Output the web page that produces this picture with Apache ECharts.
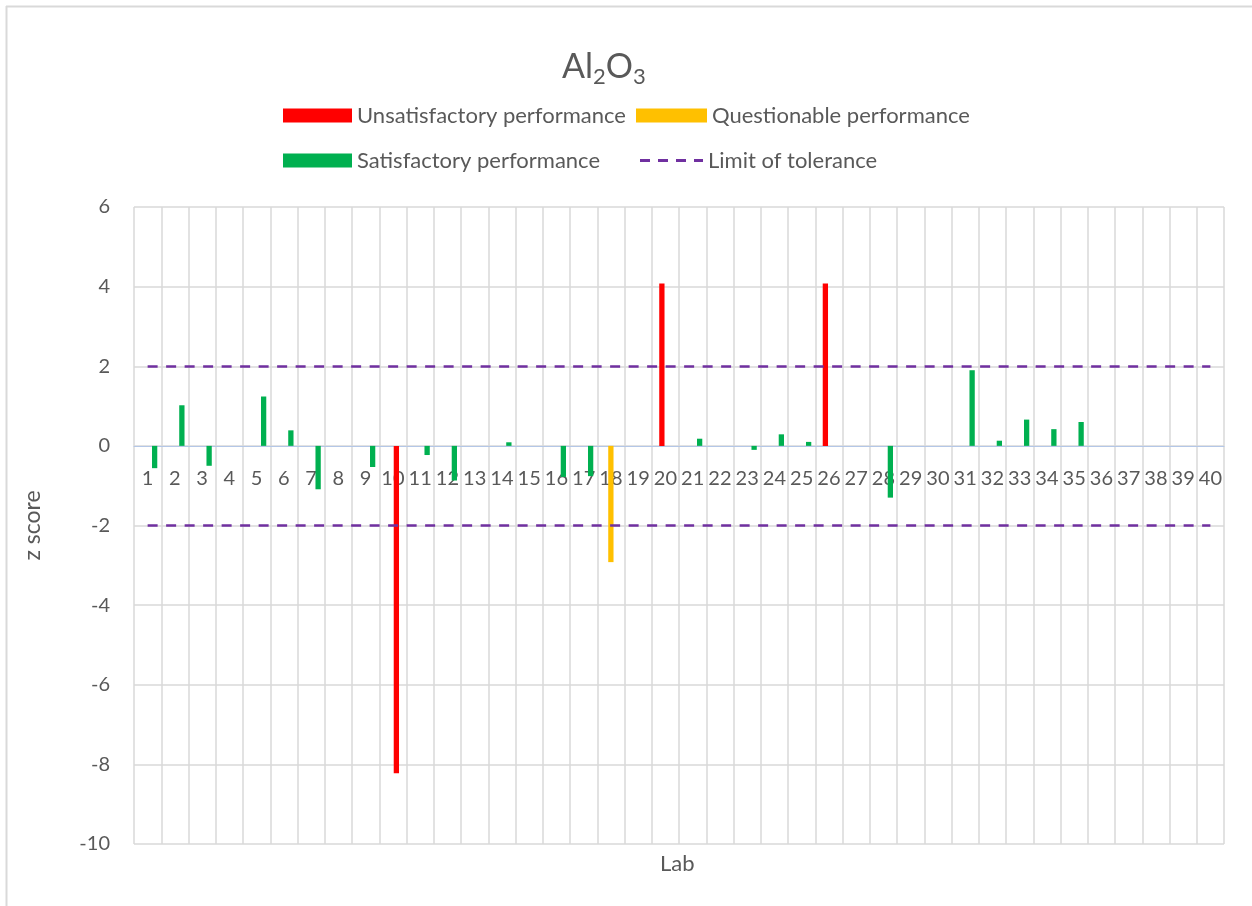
<!DOCTYPE html>
<html>
<head>
<meta charset="utf-8">
<title>Al2O3 z scores</title>
<script src="https://cdn.jsdelivr.net/npm/echarts@6/dist/echarts.min.js"></script>
<style>
  html, body { margin: 0; padding: 0; background: #fff; }
  #chart { width: 1252px; height: 906px; }
</style>
</head>
<body>
<div id="chart"></div>
<script>
// lab numbers on the category axis
const labs = ['1', '2', '3', '4', '5', '6', '7', '8', '9', '10',
  '11', '12', '13', '14', '15', '16', '17', '18', '19', '20',
  '21', '22', '23', '24', '25', '26', '27', '28', '29', '30',
  '31', '32', '33', '34', '35', '36', '37', '38', '39', '40']

// z scores, one slot per lab (null = no bar in that series)
const satisfactory = [-0.56, 1.02, -0.50, null, 1.24, 0.39, -1.09, null, -0.53, null,
  -0.23, -0.87, null, 0.09, null, -0.78, -0.76, null, null, null,
  0.18, null, -0.10, 0.29, 0.10, null, null, -1.30, null, null,
  1.90, 0.13, 0.66, 0.42, 0.60, null, null, null, null, null]
const unsatHigh = [null, null, null, null, null, null, null, null, null, null,
  null, null, null, null, null, null, null, null, null, 4.08,
  null, null, null, null, null, 4.08, null, null, null, null,
  null, null, null, null, null, null, null, null, null, null]
const unsatLow = [null, null, null, null, null, null, null, null, null, -8.22,
  null, null, null, null, null, null, null, null, null, null,
  null, null, null, null, null, null, null, null, null, null,
  null, null, null, null, null, null, null, null, null, null]
const questionable = [null, null, null, null, null, null, null, null, null, null,
  null, null, null, null, null, null, null, -2.92, null, null,
  null, null, null, null, null, null, null, null, null, null,
  null, null, null, null, null, null, null, null, null, null]
const limits = [2, -2]

const FONT = 'Lato'
const TXT = '#595959'
const RED = '#ff0000'
const YELLOW = '#ffc000'
const GREEN = '#00b050'
const PURPLE = '#7030a0'

// grid box (px)
const G_TOP = 207
const G_BOTTOM = 62
const Y_MIN = -10
const Y_MAX = 6
const plotH = 906 - G_TOP - G_BOTTOM
// lift the category axis from the bottom edge up to z = 0
const zeroLift = plotH * (0 - Y_MIN) / (Y_MAX - Y_MIN)

const chart = echarts.init(document.getElementById('chart'))

function barSeries(name, data, color) {
  return {
    name: name,
    type: 'bar',
    data: data,
    barWidth: 5.3,
    barGap: '-34%',
    itemStyle: { color: color },
    animation: false
  }
}

function legendAt(name, left, top, width, height, icon) {
  return {
    data: [name],
    left: left,
    top: top,
    padding: 0,
    icon: icon,
    itemWidth: width,
    itemHeight: height,
    itemGap: 0,
    selectedMode: false,
    textStyle: { fontFamily: FONT, fontSize: 22, color: TXT }
  }
}

const dashIcon = 'path://M0,0h10v3h-10z M18,0h10v3h-10z M36,0h10v3h-10z M54,0h9v3h-9z'

chart.setOption({
  backgroundColor: '#fff',
  textStyle: { fontFamily: FONT },
  title: {
    text: '{a|Al}{s|2}{a|O}{s|3}',
    left: 562,
    top: 46,
    padding: 0,
    textStyle: {
      rich: {
        a: { fontFamily: FONT, fontSize: 34, fontWeight: 'normal', color: TXT, lineHeight: 42 },
        s: { fontFamily: FONT, fontSize: 22, fontWeight: 'normal', color: TXT, lineHeight: 22, verticalAlign: 'bottom' }
      }
    }
  },
  legend: [
    legendAt('Unsatisfactory performance', 283, 104.5, 69, 14, 'rect'),
    legendAt('Questionable performance', 636, 104.5, 71, 14, 'rect'),
    legendAt('Satisfactory performance', 283, 149.5, 69, 14, 'rect'),
    legendAt('Limit of tolerance', 640, 149.5, 63, 3, dashIcon)
  ],
  grid: {
    left: 134,
    right: 28,
    top: G_TOP,
    bottom: G_BOTTOM,
    containLabel: false
  },
  xAxis: {
    type: 'category',
    data: labs,
    boundaryGap: true,
    offset: -zeroLift,
    axisLine: { onZero: false, lineStyle: { color: '#b4c7e7', width: 1 } },
    axisTick: { show: false },
    axisLabel: { interval: 0, margin: 23, fontFamily: FONT, fontSize: 20, color: TXT },
    splitLine: { show: true, interval: 0, lineStyle: { color: '#d9d9d9', width: 1.5 } }
  },
  yAxis: {
    type: 'value',
    min: Y_MIN,
    max: Y_MAX,
    interval: 2,
    name: 'z score',
    nameLocation: 'middle',
    nameGap: 90,
    nameTextStyle: { fontFamily: FONT, fontSize: 23, color: TXT },
    axisLine: { show: false },
    axisTick: { show: false },
    axisLabel: { margin: 24, fontFamily: FONT, fontSize: 20, color: TXT },
    splitLine: { lineStyle: { color: '#d9d9d9', width: 1.5 } }
  },
  series: [
    // empty first slot keeps the cluster spacing of the original workbook
    barSeries('spare', [], 'transparent'),
    barSeries('Unsatisfactory performance', unsatHigh, RED),
    barSeries('Questionable performance', questionable, YELLOW),
    barSeries('Unsatisfactory performance', unsatLow, RED),
    barSeries('Satisfactory performance', satisfactory, GREEN),
    {
      name: 'Limit of tolerance',
      type: 'line',
      data: [],
      symbol: 'none',
      lineStyle: { color: PURPLE, width: 2.7, type: [10, 8.5] },
      itemStyle: { color: PURPLE },
      animation: false,
      markLine: {
        silent: true,
        symbol: 'none',
        label: { show: false },
        lineStyle: { color: PURPLE, width: 2.7, type: [10, 8.5] },
        data: limits.map(v => [{ coord: [labs[0], v] }, { coord: [labs[labs.length - 1], v] }])
      }
    }
  ],
  graphic: [
    { type: 'line', shape: { x1: 6.5, y1: 6, x2: 6.5, y2: 906 }, style: { stroke: '#d9d9d9', lineWidth: 2 } },
    { type: 'line', shape: { x1: 6, y1: 6.5, x2: 1252, y2: 6.5 }, style: { stroke: '#d9d9d9', lineWidth: 2 } },
    {
      type: 'text',
      left: 660,
      top: 853,
      style: { text: 'Lab', fontFamily: FONT, fontSize: 22, fill: TXT }
    }
  ]
})
</script>
</body>
</html>
